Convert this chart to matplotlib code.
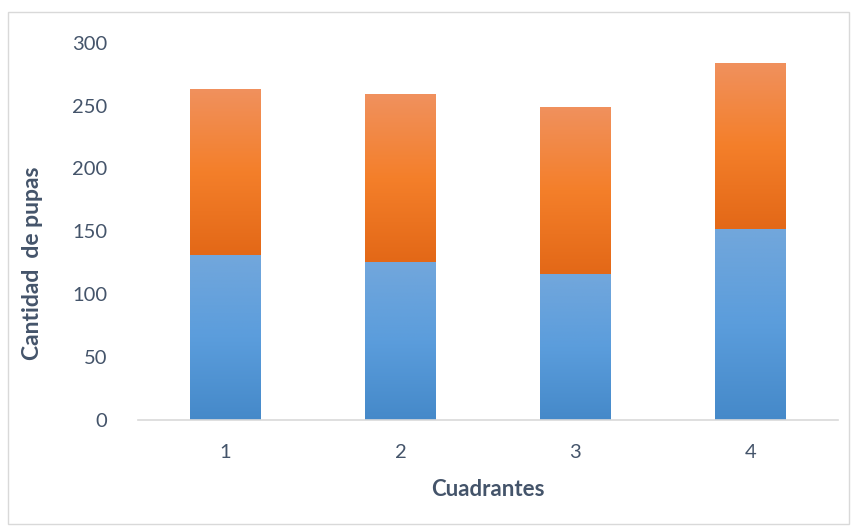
import matplotlib
matplotlib.use("Agg")
import matplotlib.pyplot as plt
import numpy as np
from matplotlib.colors import LinearSegmentedColormap
from matplotlib.patches import Rectangle

plt.rcParams["font.family"] = ["Lato", "DejaVu Sans"]

# values
cuadrantes = ["1", "2", "3", "4"]
serie_a = [131, 126, 116, 152]
serie_b = [132, 133, 133, 132]

text_color = "#44546A"
blue_cmap = LinearSegmentedColormap.from_list("blue", ["#4589C9", "#5B9DDC", "#72A7DC"])
orange_cmap = LinearSegmentedColormap.from_list("orange", ["#E36817", "#F47F2A", "#F0915E"])


def gradient_bars(ax, bars, cmap):
    grad = np.linspace(0, 1, 256).reshape(-1, 1)
    for bar in bars:
        x0, y0 = bar.get_x(), bar.get_y()
        w, h = bar.get_width(), bar.get_height()
        bar.set_facecolor("none")
        bar.set_edgecolor("none")
        im = ax.imshow(grad, cmap=cmap, origin="lower", aspect="auto",
                       extent=(x0, x0 + w, y0, y0 + h), zorder=2)
        im.set_clip_path(bar)


fig = plt.figure(figsize=(8.54, 5.27), dpi=100)
fig.patches.append(Rectangle((0.009, 0.005), 0.985, 0.972, transform=fig.transFigure,
                             fill=False, edgecolor="#D9D9D9", linewidth=1))
ax = fig.add_axes([138 / 854, 1 - 420 / 527, 700 / 854, (420 - 42.7) / 527])

x = np.arange(len(cuadrantes))
bars_a = ax.bar(x, serie_a, width=0.405)
bars_b = ax.bar(x, serie_b, width=0.405, bottom=serie_a)
gradient_bars(ax, bars_a, blue_cmap)
gradient_bars(ax, bars_b, orange_cmap)

ax.set_xlim(-0.5, len(cuadrantes) - 0.5)
ax.set_ylim(0, 300)
ax.set_yticks(range(0, 301, 50))
ax.set_xticks(x)
ax.set_xticklabels(cuadrantes)

for side in ["top", "right", "left"]:
    ax.spines[side].set_visible(False)
ax.spines["bottom"].set_color("#D9D9D9")
ax.spines["bottom"].set_linewidth(1.2)
ax.tick_params(axis="both", length=0, labelsize=14.5, colors=text_color)
ax.tick_params(axis="y", pad=22)
ax.tick_params(axis="x", pad=17)

ax.set_xlabel("Cuadrantes", fontsize=16, fontweight="bold", color=text_color, labelpad=13)
ax.set_ylabel("Cantidad  de pupas", fontsize=16.5, fontweight="bold", color=text_color, va="center")
ax.yaxis.set_label_coords(-0.151, 0.415)

fig.savefig("out.png", dpi=100)
